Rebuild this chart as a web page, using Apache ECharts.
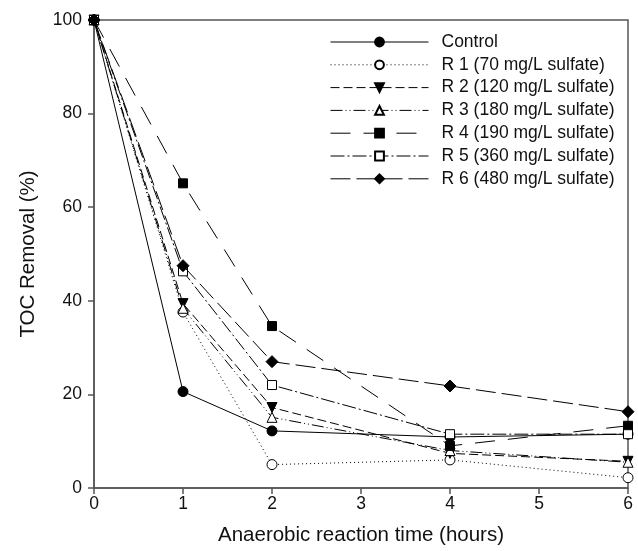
<!DOCTYPE html>
<html><head><meta charset="utf-8">
<script src="https://cdn.jsdelivr.net/npm/echarts@6/dist/echarts.min.js"></script>
<style>html,body{margin:0;padding:0;background:#fff}#c{width:638px;height:551px}</style>
</head><body><div id="c"></div>
<script>
const times = [0, 1, 2, 4, 6];
const seriesNames = ['Control','R 1 (70 mg/L sulfate)','R 2 (120 mg/L sulfate)','R 3 (180 mg/L sulfate)','R 4 (190 mg/L sulfate)','R 5 (360 mg/L sulfate)','R 6 (480 mg/L sulfate)'];
const control = [100, 20.6, 12.2, 10.9, 11.5];
const r1 = [100, 37.6, 5.0, 6.0, 2.2];
const r2 = [100, 39.4, 17.2, 7.4, 5.7];
const r3 = [100, 38.4, 15.1, 8.0, 5.5];
const r4 = [100, 65.1, 34.6, 9.0, 13.3];
const r5 = [100, 46.3, 22.0, 11.5, 11.5];
const r6 = [100, 47.5, 27.0, 21.8, 16.3];
const xTicks = [0, 1, 2, 3, 4, 5, 6];
const yTicks = [0, 20, 40, 60, 80, 100];

const values = [control, r1, r2, r3, r4, r5, r6];
const styles = [
  {sym:'circle', fill:'#000', dash:'solid', size:10},
  {sym:'circle', fill:'#fff', dash:[1,3], size:10},
  {sym:'path://M0,0 L10,0 L5,10 Z', fill:'#000', dash:[9,4], size:10},
  {sym:'triangle', fill:'#fff', dash:[12,3,1,3,1,3], size:10},
  {sym:'rect', fill:'#000', dash:[20,13], size:9},
  {sym:'rect', fill:'#fff', dash:[14,3,2,3], size:9},
  {sym:'diamond', fill:'#000', dash:[20,6], size:12}
];
const series = values.map((v, i) => ({
  name: seriesNames[i],
  type: 'line',
  data: times.map((t, j) => [t, v[j]]),
  symbol: styles[i].sym,
  symbolSize: styles[i].size,
  showSymbol: true,
  z: 2 + i,
  lineStyle: {color:'#000', width:1, type: styles[i].dash},
  itemStyle: {color: styles[i].fill, borderColor:'#000', borderWidth:1, opacity:1},
  emphasis: {disabled:true},
  animation: false
}));
const chart = echarts.init(document.getElementById('c'), null, {renderer:'canvas'});
const font = 'Liberation Sans, Arial, sans-serif';
chart.setOption({
  animation: false,
  grid: {left:94, right:10, top:20, bottom:63, show:true, borderColor:'#555', borderWidth:1.5, backgroundColor:'transparent'},
  legend: {
    orient:'vertical', left:330, top:33, padding:0, itemWidth:98, itemHeight:11, itemGap:4.8,
    data: seriesNames,
    lineStyle:{width:1},
    textStyle:{fontFamily:font, fontSize:17.5, color:'#111', padding:[0,0,0,8], lineHeight:18},
    selectedMode:false
  },
  xAxis: {
    type:'value', min:0, max:6, interval:1,
    name:'Anaerobic reaction time (hours)', nameLocation:'middle', nameGap:37,
    nameTextStyle:{fontFamily:font, fontSize:20.5, color:'#111'},
    axisLine:{show:true, onZero:false, lineStyle:{color:'#555', width:1.5}},
    axisTick:{show:true, inside:false, length:6, lineStyle:{color:'#555', width:1.5}},
    axisLabel:{fontFamily:font, fontSize:17.5, color:'#111', margin:7, formatter: v => xTicks.includes(v) ? String(v) : ''},
    splitLine:{show:false}
  },
  yAxis: {
    type:'value', min:0, max:100, interval:20,
    name:'TOC Removal (%)', nameLocation:'middle', nameGap:55, nameRotate:90,
    nameTextStyle:{fontFamily:font, fontSize:20.5, color:'#111'},
    axisLine:{show:true, onZero:false, lineStyle:{color:'#555', width:1.5}},
    axisTick:{show:true, inside:false, length:6, lineStyle:{color:'#555', width:1.5}},
    axisLabel:{fontFamily:font, fontSize:17.5, color:'#111', margin:12, formatter: v => yTicks.includes(v) ? String(v) : ''},
    splitLine:{show:false}
  },
  series: series
});
</script></body></html>
